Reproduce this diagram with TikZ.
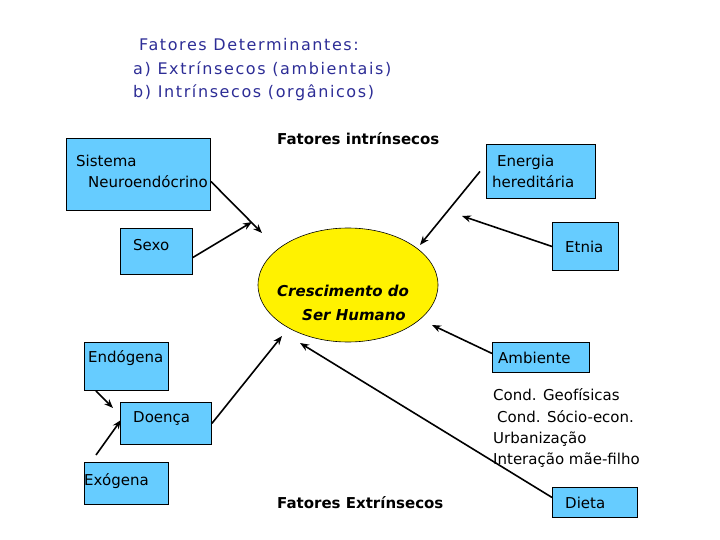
\documentclass[tikz,border=0pt]{standalone}
\usepackage{fontspec}
\setmainfont{DejaVu Sans}
\newfontfamily\ttlfont[LetterSpace=10]{DejaVu Sans}
\usetikzlibrary{shapes.geometric,arrows.meta}
\definecolor{boxblue}{RGB}{102,204,255}
\definecolor{titleblue}{RGB}{45,45,150}
\tikzset{
  box/.style={draw=black,line width=0.9pt,fill=boxblue,inner sep=0pt,anchor=north west},
  lbl/.style={anchor=base west,inner sep=0pt,font=\fontsize{15}{17}\selectfont},
  bold/.style={anchor=base west,inner sep=0pt,font=\fontsize{15}{17}\selectfont\bfseries},
  bolditl/.style={anchor=base west,inner sep=0pt,font=\fontsize{15}{17}\selectfont\bfseries\itshape},
  ttl/.style={anchor=base west,inner sep=0pt,text=titleblue,font=\ttlfont\fontsize{16}{18}\selectfont},
  arr/.style={line width=1.6pt,-{Stealth[length=9pt,width=7pt]}},
}
\begin{document}
\begin{tikzpicture}[x=1pt,y=-1pt]
\useasboundingbox (0,0) rectangle (720,540);
% title
\node[ttl] (t1) at (139,51) {Fatores Determinantes:};
\node[ttl] (t2) at (133,75) {a) Extrínsecos (ambientais)};
\node[ttl] (t3) at (133,98) {b) Intrínsecos (orgânicos)};
% headings
\node[bold] (fi) at (277,145) {Fatores intrínsecos};
\node[bold] (fe) at (277,508) {Fatores Extrínsecos};
% boxes
\node[box,minimum width=144,minimum height=72] (neuro) at (66,138) {};
\node[box,minimum width=72,minimum height=46] (sexo) at (120,228) {};
\node[box,minimum width=109,minimum height=54] (energia) at (486,144) {};
\node[box,minimum width=66,minimum height=48] (etnia) at (552,222) {};
\node[box,minimum width=84,minimum height=48] (endo) at (84,342) {};
\node[box,minimum width=91,minimum height=42] (doenca) at (120,402) {};
\node[box,minimum width=84,minimum height=42] (exo) at (84,462) {};
\node[box,minimum width=97,minimum height=30] (amb) at (492,342) {};
\node[box,minimum width=85,minimum height=30] (dieta) at (552,487) {};
% ellipse
\node[ellipse,draw=black,line width=0.6pt,fill=yellow,minimum width=180,minimum height=114] (cresc) at (348,285) {};
% box labels
\node[lbl] (l1) at (76,167) {Sistema};
\node[lbl] (l2) at (88,188) {Neuroendócrino};
\node[lbl] (l3) at (133,251) {Sexo};
\node[lbl] (l4) at (497,167) {Energia};
\node[lbl] (l5) at (492,188) {hereditária};
\node[lbl] (l6) at (565,252) {Etnia};
\node[lbl] (l7) at (88,362) {Endógena};
\node[lbl] (l8) at (133,422) {Doença};
\node[lbl] (l9) at (84,485) {Exógena};
\node[lbl] (l10) at (498,363) {Ambiente};
\node[lbl] (l11) at (565,508) {Dieta};
% ellipse text
\node[bolditl] (c1) at (277,296) {Crescimento do};
\node[bolditl] (c2) at (302,320) {Ser Humano};
% list
\node[lbl] (k1) at (493,400) {Cond. Geofísicas};
\node[lbl] (k2) at (497,422) {Cond. Sócio-econ.};
\node[lbl] (k3) at (493,443) {Urbanização};
\node[lbl] (k4) at (493,464) {Interação mãe-filho};
% arrow ends
\coordinate (e1) at (262,233);
\coordinate (e2) at (252,222);
\coordinate (e3) at (420,245);
\coordinate (e4) at (462,216);
\coordinate (e5) at (113,408);
\coordinate (e6) at (121,420);
\coordinate (e7) at (282,336);
\coordinate (e8) at (300,343);
\coordinate (e9) at (432,325);
% arrows
\draw[arr] ([yshift=-7pt]neuro.east) -- (e1);
\draw[arr] ([yshift=-6pt]sexo.east) -- (e2);
\draw[arr] ([xshift=-6pt]energia.west) -- (e3);
\draw[arr] (etnia.west) -- (e4);
\draw[arr] ([xshift=12pt]endo.south west) -- (e5);
\draw[arr] ([xshift=12pt,yshift=7pt]exo.north west) -- (e6);
\draw[arr] (doenca.east) -- (e7);
\draw[arr] ([yshift=5pt]dieta.west) -- (e8);
\draw[arr] ([yshift=4pt]amb.west) -- (e9);
\end{tikzpicture}
\end{document}
